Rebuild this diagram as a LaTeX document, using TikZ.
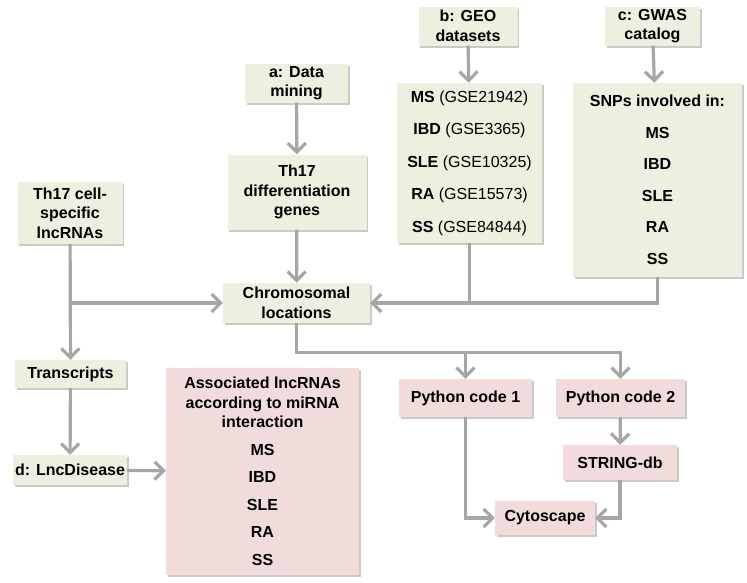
\documentclass[tikz,border=0pt]{standalone}
\usepackage{fontspec}
\setmainfont{Liberation Sans}
\usetikzlibrary{positioning,arrows.meta,shadows,calc}
\definecolor{greenbox}{RGB}{235,241,222}
\definecolor{pinkbox}{RGB}{242,220,219}
\definecolor{linegray}{RGB}{166,166,166}
\tikzstyle{gbox}=[rectangle, fill=greenbox, draw=none, inner sep=2pt,
                  drop shadow={shadow xshift=1.5pt, shadow yshift=-2pt, fill=black!35, opacity=.6},
                  font=\fontsize{16}{19.5}\selectfont\bfseries, align=center]
\tikzstyle{rbox}=[gbox, fill=pinkbox]
\tikzstyle{pline}=[-{Straight Barb[length=9pt,width=18pt]}, line width=3.2pt, draw=linegray]
\tikzstyle{jline}=[-, line width=3.2pt, draw=linegray]

\begin{document}
\begin{tikzpicture}[x=1pt, y=-1pt]
\useasboundingbox (0,0) rectangle (747,582);

\node (DATA) [gbox, minimum width=103pt, minimum height=39pt] at (296.5,83) {a: Data\\mining};
\node (DIFF) [gbox, minimum width=139pt, minimum height=75pt] at (297,192) {Th17\\differentiation\\genes};
\node (LNC) [gbox, minimum width=105pt, minimum height=62pt] at (70,213) {Th17 cell-\\specific\\lncRNAs};
\node (CHROM) [gbox, minimum width=147pt, minimum height=40pt] at (296.5,303) {Chromosomal\\locations};

\node (GEO) [gbox, minimum width=99pt, minimum height=39pt] at (468,26) {b: GEO\\datasets};
\node (GEOL) [gbox, minimum width=145pt, minimum height=160pt] at (469.5,163)
 {MS \mdseries(GSE21942)\\[13pt]IBD \mdseries(GSE3365)\\[13pt]SLE \mdseries(GSE10325)\\[13pt]RA \mdseries(GSE15573)\\[13pt]SS \mdseries(GSE84844)};

\node (GWAS) [gbox, minimum width=95pt, minimum height=39pt] at (652.5,26) {c: GWAS\\catalog};
\node (SNP) [gbox, minimum width=169pt, minimum height=194pt] at (657.5,180)
 {SNPs involved in:\\[12pt]MS\\[12pt]IBD\\[12pt]SLE\\[12pt]RA\\[12pt]SS};

\node (TRANS) [gbox, minimum width=111pt, minimum height=28pt] at (70.5,374) {Transcripts};
\node (DIS) [gbox, minimum width=114pt, minimum height=30pt] at (70,470) {d: LncDisease};
\node (ASSOC) [rbox, minimum width=193pt, minimum height=207pt] at (262.5,471.5)
 {Associated lncRNAs\\according to miRNA\\interaction\\[8pt]MS\\[8pt]IBD\\[8pt]SLE\\[8pt]RA\\[8pt]SS};

\node (PY1) [rbox, minimum width=133pt, minimum height=38pt] at (465.5,398) {Python code 1};
\node (PY2) [rbox, minimum width=129pt, minimum height=38pt] at (620.5,398) {Python code 2};
\node (STR) [rbox, minimum width=114pt, minimum height=35pt] at (620,462.5) {STRING-db};
\node (CYTO) [rbox, minimum width=100pt, minimum height=34pt] at (545,518) {Cytoscape};

\coordinate (FORK) at ($(CHROM.south)+(0,29)$);

\draw[pline] (DATA) -- (DIFF);
\draw[pline] (DIFF) -- (CHROM);
\draw[pline] (GEO) -- (GEOL);
\draw[pline] (GWAS) -- (SNP);
\draw[pline] (LNC) -- (TRANS);
\draw[pline] (LNC.south |- CHROM.west) -- (CHROM.west);
\draw[jline] (GEOL.south) -- (GEOL.south |- CHROM.east);
\draw[pline] (SNP.south) |- (CHROM.east);
\draw[pline] (CHROM.south) -- (FORK) -| (PY2.north);
\draw[pline] (FORK -| PY1.north) -- (PY1.north);
\draw[pline] (TRANS) -- (DIS);
\draw[pline] (DIS) -- (ASSOC);
\draw[pline] (PY1.south) |- (CYTO.west);
\draw[pline] (PY2) -- (STR);
\draw[pline] (STR.south) |- (CYTO.east);

\end{tikzpicture}
\end{document}
